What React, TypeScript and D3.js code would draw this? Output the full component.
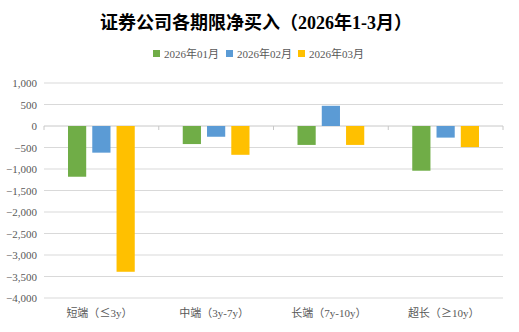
import React from "react";
import * as d3 from "d3";

const categories = ["短端（≤3y）", "中端（3y-7y）", "长端（7y-10y）", "超长（≥10y）"];
const seriesNames = ["2026年01月", "2026年02月", "2026年03月"];
const jan = [-1180, -420, -440, -1040];
const feb = [-620, -250, 470, -270];
const mar = [-3390, -670, -440, -490];
const yTicks = [1000, 500, 0, -500, -1000, -1500, -2000, -2500, -3000, -3500, -4000];
const colors = ["#70AD47", "#5B9BD5", "#FFC000"];

const W = 519, H = 332;
const left = 44, right = 503, top = 83, bottom = 298;
const FONT = "'Liberation Serif', 'Noto Sans CJK SC', serif";
const CJK = "'Noto Sans CJK JP', 'Noto Sans CJK SC', sans-serif";

function Label({ text }: { text: string }) {
  const parts = text.split(/([≤≥])/);
  return (
    <>
      {parts.map((p, i) =>
        p === "≤" || p === "≥" ? (
          <tspan key={i} fontFamily={CJK}>{p}</tspan>
        ) : (
          <tspan key={i}>{p}</tspan>
        )
      )}
    </>
  );
}

export default function App() {
  const series = [jan, feb, mar];
  const y = d3.scaleLinear().domain([1000, -4000]).range([top, bottom]);
  const x = d3.scaleBand<string>().domain(categories).range([left, right]).padding(0);
  const inner = d3.scaleBand<string>().domain(seriesNames).range([24, x.bandwidth() - 24]).paddingInner(0.25).paddingOuter(0);
  const fmt = d3.format(",");
  const legendX = [153, 226, 298];
  return (
    <svg width={W} height={H} style={{ display: "block", position: "absolute", left: 0, top: 0 }}>
      <rect width={W} height={H} fill="#fff" />
      <text x={256} y={29} textAnchor="middle" fontFamily={FONT} fontWeight="bold" fontSize={18} fill="#000">
        证券公司各期限净买入（2026年1-3月）
      </text>
      {seriesNames.map((s, i) => (
        <g key={s}>
          <rect x={legendX[i]} y={50} width={7} height={7} fill={colors[i]} />
          <text x={legendX[i] + 11} y={57.5} fontFamily={FONT} fontSize={11} fill="#595959">{s}</text>
        </g>
      ))}
      {yTicks.map((t) => (
        <g key={t}>
          <line x1={left} x2={right} y1={y(t)} y2={y(t)} stroke={t === 0 ? "#c8c8c8" : "#d9d9d9"} strokeWidth={1} />
          <text x={37} y={y(t) + 4} textAnchor="end" fontFamily={FONT} fontSize={11} fill="#595959">{fmt(t)}</text>
        </g>
      ))}
      {[...categories.map((c) => x(c) as number), right].map((bx, i) => (
        <line key={i} x1={bx} x2={bx} y1={y(0)} y2={y(0) + 4} stroke="#c8c8c8" />
      ))}
      {categories.map((c, ci) => (
        <g key={c} transform={`translate(${x(c)},0)`}>
          {series.map((vals, si) => {
            const v = vals[ci];
            return (
              <rect key={si} x={inner(seriesNames[si])} width={inner.bandwidth()}
                y={Math.min(y(v), y(0))} height={Math.abs(y(v) - y(0))} fill={colors[si]} />
            );
          })}
          <text x={x.bandwidth() / 2 - 2} y={317} textAnchor="middle" fontFamily={FONT} fontSize={11} fill="#595959">
            <Label text={c} />
          </text>
        </g>
      ))}
    </svg>
  );
}
